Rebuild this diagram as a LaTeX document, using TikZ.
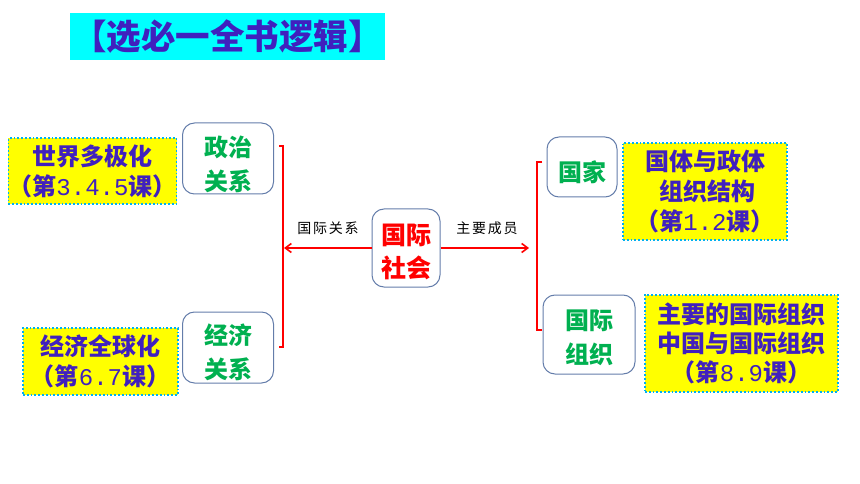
\documentclass[tikz,border=0pt]{standalone}
\usepackage{fontspec}
\setmainfont{Noto Sans CJK SC}
\newfontfamily\numfont{Liberation Mono}
\usetikzlibrary{arrows.meta}
\definecolor{titlecyan}{RGB}{0,255,255}
\definecolor{inkpurple}{RGB}{64,32,190}
\definecolor{leafgreen}{RGB}{0,176,80}
\definecolor{dotblue}{RGB}{0,176,240}
\definecolor{boxgray}{RGB}{100,125,170}
\definecolor{noteyellow}{RGB}{255,255,0}
\begin{document}
\begin{tikzpicture}[x=1pt, y=-1pt, >={Straight Barb[length=6pt, width=9pt]},
    note/.style={fill=noteyellow, draw=dotblue, dotted, line width=1.8pt, text=inkpurple, align=center, inner sep=0pt, font=\bfseries\fontsize{24}{30}\selectfont},
    rel/.style={draw=boxgray, rounded corners=12pt, line width=1pt, inner sep=0pt},
    reltext/.style={align=center, inner sep=0pt, text=leafgreen, font=\bfseries\fontsize{24}{34}\selectfont},
    link/.style={red, line width=1.6pt},
    tag/.style={text=black, font=\fontsize{14}{14}\selectfont\addfontfeature{LetterSpace=12}}]
    \useasboundingbox (0,0) rectangle (860,484);

    % 1. 标题
    \node[fill=titlecyan, text=inkpurple, minimum width=315, minimum height=47, inner sep=0pt, font=\bfseries\fontsize{34.5}{34.5}\selectfont] (title) at (227.5,36.5) {【选必一全书逻辑】};

    % 2. 中心与两侧关系框 (文字略低于框心)
    \node[rel, minimum width=68, minimum height=78] (society) at (406,248) {};
    \node[reltext, text=red, font=\bfseries\fontsize{25}{33}\selectfont] (societyt) at ([yshift=-4]society) {国际\\社会};
    \node[rel, minimum width=91, minimum height=71] (politics) at (228,158.5) {};
    \node[reltext] (politicst) at ([yshift=-6]politics) {政治\\关系};
    \node[rel, minimum width=91, minimum height=71] (economy) at (228,347.5) {};
    \node[reltext] (economyt) at ([yshift=-5]economy) {经济\\关系};
    \node[rel, minimum width=70, minimum height=60] (state) at (582,167) {};
    \node[reltext] (statet) at ([yshift=-5]state) {国家};
    \node[rel, minimum width=92, minimum height=79] (org) at (589,334.5) {};
    \node[reltext] (orgt) at ([yshift=-3]org) {国际\\组织};

    % 3. 黄色课目框
    \node[note, minimum width=155, minimum height=66] (multi) at (92.5,171) {世界多极化\\（第{\numfont\mdseries 3.4.5}课）};
    \node[note, minimum width=155, minimum height=67] (global) at (100.5,361.5) {经济全球化\\（第{\numfont\mdseries 6.7}课）};
    \node[note, minimum width=164, minimum height=97] (polity) at (705,191.5) {国体与政体\\\ 组织结构\\（第{\numfont\mdseries 1.2}课）};
    \node[note, minimum width=193, minimum height=97, font=\bfseries\fontsize{24}{29}\selectfont] (member) at (741.5,343.5) {主要的国际组织\\中国与国际组织\\（第{\numfont\mdseries 8.9}课）};

    % 4. 红色括线与箭头
    \coordinate (lt) at (279,146);
    \coordinate (lb) at (279,347);
    \coordinate (lhit) at (284,248);
    \coordinate (rt) at (542,162);
    \coordinate (rb) at (542,330);
    \coordinate (rhit) at (529,248);
    \draw[link] (lt) -- ++(4,0) |- (lb);
    \draw[link] (rt) -- ++(-5,0) |- (rb);
    \draw[link, ->] (society) -- (lhit);
    \draw[link, ->] (society) -- (rhit);
    \node[tag] (ltag) at (328,228) {国际关系};
    \node[tag] (rtag) at (487,228) {主要成员};
\end{tikzpicture}
\end{document}
